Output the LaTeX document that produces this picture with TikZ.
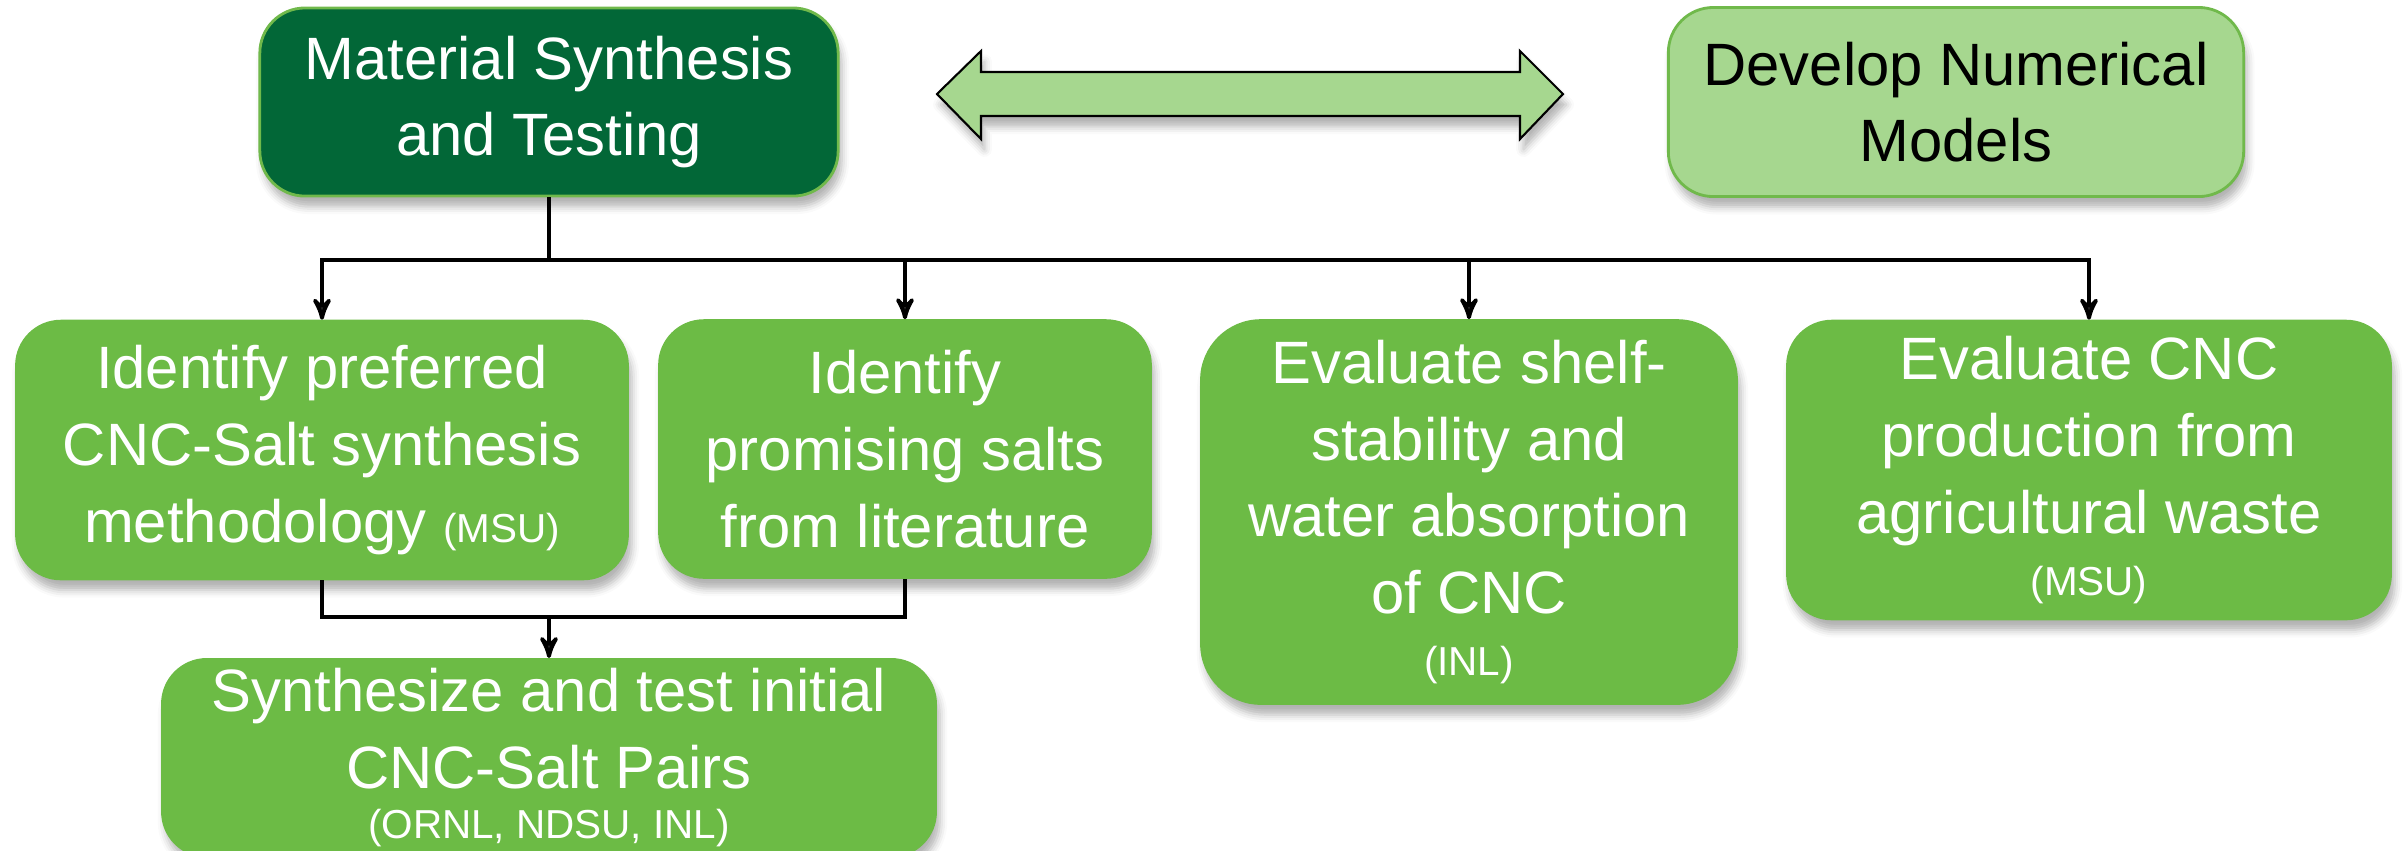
\documentclass[tikz,border=0pt]{standalone}
\usepackage{fontspec}
\setmainfont{Liberation Sans}
\usetikzlibrary{arrows}
\usetikzlibrary{shadows.blur}
\definecolor{darkgrn}{RGB}{2,103,55}
\definecolor{midgrn}{RGB}{108,187,69}
\definecolor{lightgrn}{RGB}{166,215,143}
\definecolor{edgegrn}{RGB}{112,185,75}
\newcommand{\orgtag}[1]{{\fontsize{11.5}{14}\selectfont #1}}

\begin{document}
\begin{tikzpicture}[x=0.01cm,y=-0.01cm,>=stealth',
      box/.style={rounded corners=0.45cm,align=center,inner sep=0pt,
        font=\fontsize{17}{21.8}\selectfont,
        blur shadow={shadow xshift=1pt,shadow yshift=-3pt,shadow opacity=30}},
      top node/.style={box,draw=edgegrn,line width=0.8pt},
      task node/.style={box,fill=midgrn,draw=midgrn,text=white},
      link/.style={line width=1.1pt}]
  \useasboundingbox (0,0) rectangle (2405,850);
  \clip (0,0) rectangle (2405,850);

  \node[top node,fill=darkgrn,text=white,minimum width=5.78cm,minimum height=1.88cm]
    (synth) at (549,102) {Material Synthesis\\and Testing};
  \node[top node,fill=lightgrn,minimum width=5.75cm,minimum height=1.89cm]
    (models) at (1956,102) {Develop Numerical\\Models};

  % two-way arrow between the top boxes
  \draw[fill=lightgrn,line width=0.6pt,
        blur shadow={shadow xshift=1pt,shadow yshift=-3pt,shadow opacity=30}]
    (937,94) -- (981,51) -- (981,72) -- (1520,72) -- (1520,51) -- (1563,94)
    -- (1520,139) -- (1520,116) -- (981,116) -- (981,139) -- cycle;

  \node[task node,minimum width=6.12cm,minimum height=2.59cm]
    (idsyn) at (322,450) {Identify preferred\\CNC-Salt synthesis\\methodology \orgtag{(MSU)}};
  \node[task node,minimum width=4.92cm,minimum height=2.58cm]
    (idsalt) at (905,449) {Identify\\promising salts\\from literature};
  \node[task node,rounded corners=0.6cm,minimum width=5.36cm,minimum height=3.84cm]
    (evshelf) at (1469,512) {Evaluate shelf-\\stability and\\water absorption\\of CNC\\[-4.2pt]\orgtag{(INL)}};
  \node[task node,minimum width=6.04cm,minimum height=2.99cm]
    (evwaste) at (2089,470) {Evaluate CNC\\production from\\agricultural waste\\[-4.2pt]\orgtag{(MSU)}};
  \node[task node,anchor=north,minimum width=7.74cm,minimum height=1.98cm]
    (pairs) at (549,658) {Synthesize and test initial\\CNC-Salt Pairs\\[-7.5pt]\orgtag{(ORNL, NDSU, INL)}};

  \coordinate (bus) at (549,260);
  \coordinate (join) at (549,617);
  \draw[link] (synth.south) -- (bus);
  \draw[link,->] (bus) -| (idsyn.north);
  \draw[link,->] (bus) -| (idsalt.north);
  \draw[link,->] (bus) -| (evshelf.north);
  \draw[link,->] (bus) -| (evwaste.north);
  \draw[link] (idsyn.south) |- (join);
  \draw[link] (idsalt.south) |- (join);
  \draw[link,->] (join) -- (pairs.north);
\end{tikzpicture}
\end{document}
